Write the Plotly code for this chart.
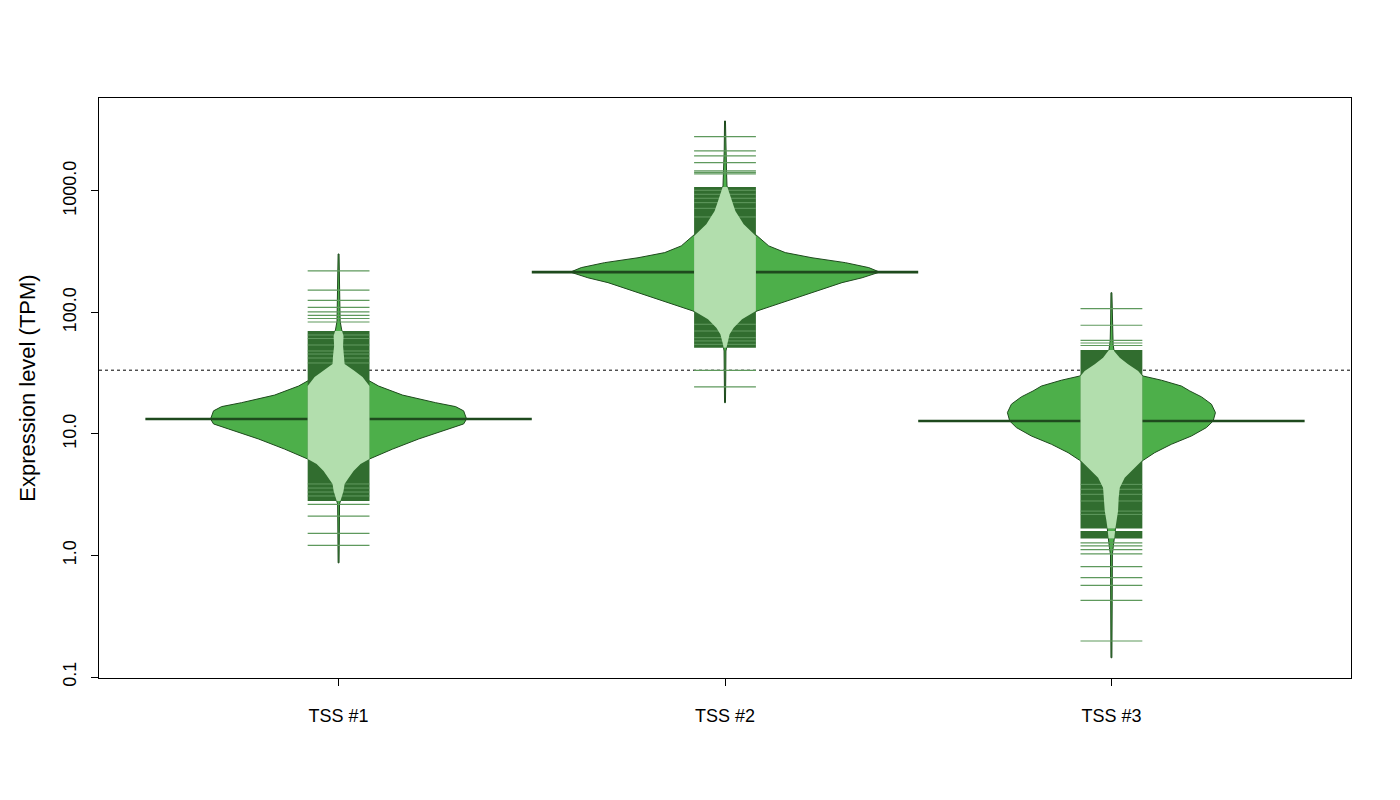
import numpy as np
import plotly.graph_objects as go

categories = ["TSS #1", "TSS #2", "TSS #3"]

# Bean outlines: TPM levels (top -> bottom) and relative density (widest bean = 1)
tss1_level = [303, 211, 124, 85, 73, 64, 53, 43.9, 37.7, 33.0, 29.4, 24.8, 20.9, 18.1, 16.8,
              15.5, 13.3, 12.1, 11.0, 9.1, 7.52, 6.23, 5.66, 4.96, 4.34, 3.88, 3.40, 2.92,
              2.65, 1.59, 0.87]
tss1_density = [0.003, 0.005, 0.006, 0.01, 0.019, 0.032, 0.029, 0.036, 0.039, 0.104, 0.155,
                0.259, 0.414, 0.628, 0.757, 0.809, 0.828, 0.809, 0.712, 0.518, 0.35, 0.2,
                0.142, 0.097, 0.065, 0.039, 0.032, 0.016, 0.006, 0.005, 0.003]

tss2_level = [3767, 2133, 1406, 1099, 1000, 828, 685, 532, 426, 353, 311, 282, 257, 234, 215,
              193, 176, 145.5, 120.4, 102.9, 87.9, 75.0, 66.2, 54.7, 48.2, 30.0, 18.1]
tss2_density = [0.003, 0.005, 0.01, 0.013, 0.024, 0.045, 0.067, 0.121, 0.207, 0.283, 0.39,
                0.563, 0.779, 0.93, 1.0, 0.887, 0.757, 0.563, 0.369, 0.207, 0.11, 0.056,
                0.03, 0.013, 0.006, 0.005, 0.003]

tss3_level = [145.5, 85.1, 58.3, 54.7, 48.2, 42.5, 37.5, 33.0, 30.0, 27.7, 24.8, 22.6, 20.2,
              17.6, 15.0, 12.8, 11.3, 9.63, 8.23, 7.02, 6.07, 5.28, 4.37, 3.61, 2.99, 2.32,
              1.92, 1.69, 1.49, 1.32, 1.16, 1.02, 0.42, 0.144]
tss3_density = [0.003, 0.005, 0.008, 0.011, 0.017, 0.054, 0.108, 0.173, 0.205, 0.324, 0.453,
                0.507, 0.583, 0.647, 0.673, 0.658, 0.615, 0.518, 0.388, 0.28, 0.205, 0.151,
                0.086, 0.054, 0.047, 0.043, 0.032, 0.026, 0.021, 0.017, 0.013, 0.006, 0.005,
                0.003]

# Bean medians (TPM)
medians = [13.3, 215, 12.8]

# Overall average line (TPM)
overall_line = 33.5

# Individual beanlines in the tails (TPM)
tss1_lines = [220, 153, 126, 110, 101, 94.8, 89.2, 83.5, 2.64, 2.11, 1.52, 1.21]
tss2_lines = [2800, 2134, 1941, 1710, 1461, 1420, 1380, 33.4, 24.4]
tss3_lines = [107.5, 78.5, 59.0, 56.1, 53.5, 1.27, 1.20, 1.12, 1.03, 0.81, 0.657, 0.568,
              0.428, 0.198]

# Ranges densely covered by beanlines (upper, lower TPM)
tss1_dense_hi = [70.4]
tss1_dense_lo = [2.81]
tss2_dense_hi = [1079]
tss2_dense_lo = [51.3]
tss3_dense_hi = [49.1, 1.59]
tss3_dense_lo = [1.67, 1.38]

# Small gaps between beanlines inside the dense ranges (TPM)
tss1_gaps = [65.3, 61.1, 54.0, 48.2, 45.5, 42.2, 38.4, 3.88, 3.59, 3.33, 3.09]
tss2_gaps = [1013, 939, 871, 801, 720, 611, 80.0, 70.4, 62.0, 58.3, 54.7]
tss3_gaps = [3.85, 3.51, 3.19, 2.81, 2.32, 2.18]

y_tickvals = [0.1, 1, 10, 100, 1000]
y_ticktext = ["0.1", "1.0", "10.0", "100.0", "1000.0"]

GREEN = "#4DAF4A"
LIGHT = "#B2DEAD"
DARK = "#316D2F"
GAP = "#6FA66D"
SINGLE = "#5E995C"
OUTLINE = "#1E4A1D"
MAXW = 0.4
LL = 0.08

beans = [
    (tss1_level, tss1_density, tss1_lines, tss1_dense_hi, tss1_dense_lo, tss1_gaps),
    (tss2_level, tss2_density, tss2_lines, tss2_dense_hi, tss2_dense_lo, tss2_gaps),
    (tss3_level, tss3_density, tss3_lines, tss3_dense_hi, tss3_dense_lo, tss3_gaps),
]

fig = go.Figure()

# overall average dotted line
fig.add_trace(go.Scatter(x=[0.38, 3.62], y=[overall_line, overall_line], mode="lines",
                         line=dict(color="black", width=1, dash="dot"), hoverinfo="skip"))

for i, (lev, den, lines, dhi, dlo, gaps) in enumerate(beans):
    c = i + 1
    lev = np.asarray(lev, dtype=float)
    w = np.asarray(den, dtype=float) * MAXW
    xs = np.concatenate([c + w, (c - w)[::-1], [c + w[0]]])
    ys = np.concatenate([lev, lev[::-1], [lev[0]]])
    fig.add_trace(go.Scatter(x=xs, y=ys, mode="lines", fill="toself", fillcolor=GREEN,
                             line=dict(color=OUTLINE, width=1), hoverinfo="skip"))
    # median line
    fig.add_trace(go.Scatter(x=[c - 0.5, c + 0.5], y=[medians[i], medians[i]], mode="lines",
                             line=dict(color=OUTLINE, width=2.6), hoverinfo="skip"))
    lg_asc = np.log10(lev)[::-1]
    w_asc = w[::-1]
    for hi, lo in zip(dhi, dlo):
        fig.add_trace(go.Scatter(x=[c - LL, c + LL, c + LL, c - LL, c - LL],
                                 y=[hi, hi, lo, lo, hi], mode="lines", fill="toself",
                                 fillcolor=DARK, line=dict(width=0, color=DARK),
                                 hoverinfo="skip"))
    gx, gy = [], []
    for v in gaps:
        gx += [c - LL, c + LL, None]
        gy += [v, v, None]
    fig.add_trace(go.Scatter(x=gx, y=gy, mode="lines", line=dict(color=GAP, width=0.8),
                             hoverinfo="skip"))
    for hi, lo in zip(dhi, dlo):
        py = [hi] + [l for l in lev if lo < l < hi] + [lo]
        pw = np.interp(np.log10(py), lg_asc, w_asc)
        pw = np.minimum(pw, LL)
        py = np.asarray(py)
        lx = np.concatenate([c + pw, (c - pw)[::-1], [c + pw[0]]])
        ly = np.concatenate([py, py[::-1], [py[0]]])
        fig.add_trace(go.Scatter(x=lx, y=ly, mode="lines", fill="toself", fillcolor=LIGHT,
                                 line=dict(width=0, color=LIGHT), hoverinfo="skip"))
    sx, sy = [], []
    for v in lines:
        sx += [c - LL, c + LL, None]
        sy += [v, v, None]
    fig.add_trace(go.Scatter(x=sx, y=sy, mode="lines", line=dict(color=SINGLE, width=1.2),
                             hoverinfo="skip"))

axis_common = dict(showline=True, linecolor="black", linewidth=1, mirror=True,
                   ticks="outside", ticklen=7, tickcolor="black", tickwidth=1,
                   showgrid=False, zeroline=False)

fig.update_layout(
    width=1400, height=800, autosize=False,
    margin=dict(l=91, r=57, t=90, b=130),
    paper_bgcolor="white", plot_bgcolor="white",
    showlegend=False,
    font=dict(family="Liberation Sans, Arial, Helvetica, sans-serif", size=18, color="black"),
    xaxis=dict(range=[0.38, 3.62], tickvals=[1, 2, 3], ticktext=categories,
               ticklabelstandoff=14, **axis_common),
    yaxis=dict(type="log", range=[-1.008, 3.765], tickvals=y_tickvals, ticktext=y_ticktext,
               tickangle=-90, ticklabelstandoff=8,
               title=dict(text="Expression level (TPM)", standoff=18), **axis_common),
)

fig.write_html("out.html")
